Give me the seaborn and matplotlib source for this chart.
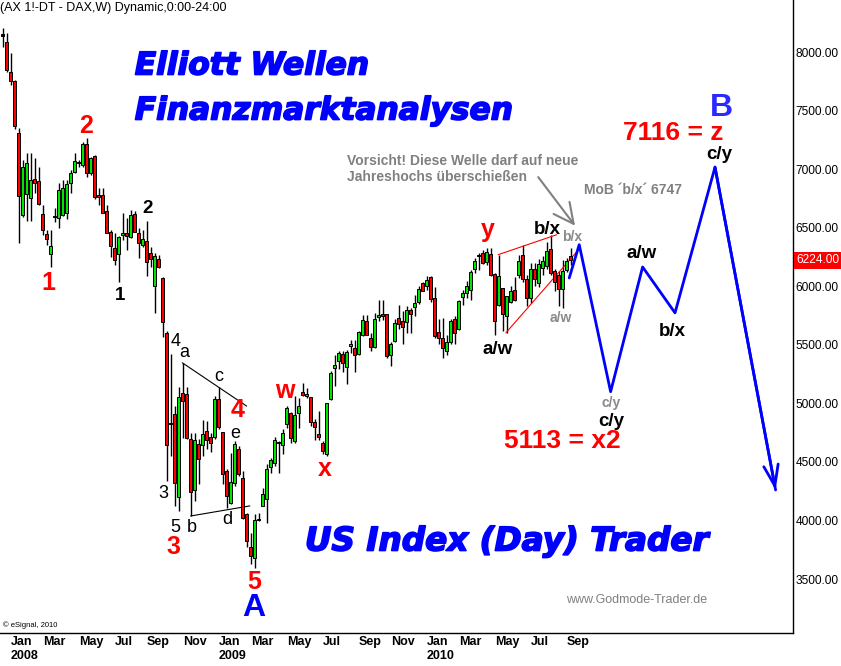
import numpy as np
import pandas as pd
import matplotlib
matplotlib.use("Agg")
import matplotlib.pyplot as plt
import matplotlib.transforms as mtransforms
import matplotlib.patheffects as pe
import seaborn as sns

opens = [
    8140, 8085, 7830, 7753, 7310, 6611, 6790, 6756, 6918, 6901,
    6619, 6449, 6278, 6590, 6585, 6611, 6628, 6884, 6977, 7050,
    7037, 7216, 6969, 7114, 6780, 6781, 6645, 6466, 6330, 6278,
    6440, 6457, 6423, 6619, 6457, 6355, 6389, 6287, 6006, 6236,
    6074, 5602, 4835, 4912, 4204, 5091, 5082, 4693, 4261, 4650,
    4642, 4764, 4713, 4713, 5034, 4758, 4423, 4148, 4324, 4614,
    4366, 4054, 3770, 3684, 4005, 4125, 4182, 4460, 4488, 4665,
    4642, 4827, 4920, 4679, 4920, 5096, 5060, 5057, 4844, 4741,
    4665, 4565, 5040, 5304, 5361, 5423, 5312, 5488, 5474, 5423,
    5582, 5707, 5560, 5480, 5738, 5764, 5764, 5412, 5531, 5730,
    5707, 5693, 5795, 5824, 5866, 6028, 6000, 6079, 5900, 5608,
    5560, 5446, 5525, 5721, 5636, 5909, 5943, 5966, 6148, 6258,
    6284, 6204, 6275, 6105, 5844, 5986, 5744, 5864, 5972, 6099,
    6270, 6060, 5900, 6150, 6030, 6156, 6170, 6318, 6128, 6100,
    5977, 6142, 6261]
highs = [
    8205, 8162, 7991, 7760, 7350, 7080, 7140, 7140, 7097, 7020,
    6696, 6483, 6483, 6670, 6884, 6909, 6909, 6994, 7139, 7080,
    7233, 7267, 7105, 7122, 6841, 6841, 6696, 6483, 6457, 6432,
    6628, 6585, 6653, 6645, 6500, 6483, 6560, 6338, 6287, 6270,
    6082, 5616, 5418, 4977, 5142, 5346, 5142, 4750, 4750, 4693,
    4858, 4849, 4750, 5062, 5142, 4758, 4437, 4579, 4679, 4636,
    4423, 4068, 3897, 4054, 4068, 4281, 4480, 4537, 4713, 4679,
    4778, 4977, 4926, 5062, 5048, 5176, 5133, 5057, 4864, 4934,
    4679, 5006, 5275, 5417, 5446, 5446, 5460, 5545, 5545, 5622,
    5758, 5758, 5602, 5773, 5880, 5886, 5764, 5525, 5721, 5844,
    5787, 5835, 5815, 5929, 6006, 6034, 6085, 6091, 5994, 5721,
    5730, 5580, 5721, 5744, 5886, 5972, 6042, 6142, 6241, 6284,
    6307, 6330, 6327, 6114, 6270, 5986, 5920, 6000, 6079, 6270,
    6355, 6100, 6200, 6200, 6230, 6260, 6380, 6440, 6150, 6130,
    6227, 6241, 6327]
lows = [
    8043, 7830, 7719, 7340, 6372, 6590, 6560, 6560, 6798, 6696,
    6440, 6355, 6168, 6551, 6500, 6602, 6577, 6798, 6969, 7020,
    7020, 6935, 6952, 6747, 6696, 6628, 6457, 6253, 6185, 6040,
    6398, 6312, 6415, 6466, 6244, 6338, 6091, 6168, 5776, 6159,
    5570, 4338, 4551, 4125, 4082, 4707, 4693, 4040, 4168, 4309,
    4551, 4608, 4585, 4693, 4778, 4309, 4111, 4139, 4295, 4380,
    4011, 3770, 3628, 3599, 3997, 4125, 3983, 4409, 4466, 4409,
    4565, 4792, 4659, 4665, 4792, 5062, 5048, 4807, 4687, 4687,
    4565, 4551, 5028, 5148, 5290, 5267, 5170, 5432, 5267, 5417,
    5574, 5580, 5446, 5474, 5702, 5716, 5389, 5318, 5523, 5636,
    5503, 5602, 5602, 5750, 5852, 5957, 5966, 5864, 5560, 5503,
    5389, 5417, 5511, 5511, 5630, 5844, 5900, 5886, 6114, 6142,
    6190, 6180, 6085, 5588, 5830, 5616, 5602, 5858, 5872, 6071,
    6040, 5830, 5860, 6000, 5990, 6100, 6150, 6100, 5960, 5830,
    5815, 6120, 6185]
closes = [
    8150, 7847, 7753, 7369, 6773, 7020, 7054, 6909, 6884, 6705,
    6483, 6406, 6347, 6600, 6824, 6841, 6875, 6969, 7071, 7060,
    7216, 6969, 7097, 6764, 6760, 6628, 6457, 6347, 6227, 6423,
    6457, 6432, 6611, 6466, 6372, 6406, 6210, 6236, 6261, 6168,
    5699, 4642, 4825, 4324, 5057, 5020, 4707, 4244, 4684, 4528,
    4736, 4684, 4659, 5034, 4798, 4400, 4210, 4332, 4656, 4395,
    4025, 3827, 3699, 4003, 4015, 4230, 4443, 4517, 4684, 4672,
    4750, 4957, 4707, 4898, 4977, 5076, 5082, 4841, 4798, 4713,
    4594, 5006, 5261, 5332, 5432, 5346, 5440, 5508, 5417, 5611,
    5710, 5588, 5480, 5722, 5758, 5744, 5403, 5503, 5687, 5679,
    5653, 5801, 5764, 5858, 5977, 5963, 6051, 5892, 5574, 5560,
    5474, 5523, 5707, 5602, 5878, 5943, 6000, 6122, 6213, 6264,
    6199, 6290, 6100, 5702, 6091, 5764, 5920, 5963, 5886, 6219,
    6060, 5900, 6150, 6060, 6190, 6213, 6304, 6114, 6034, 5977,
    6128, 6213, 6224]

start_week = "2007-12-24"
last_price = 6224
yticks = [3500, 4000, 4500, 5000, 5500, 6000, 6500, 7000, 7500, 8000]
month_ticks = [(2008, 1), (2008, 3), (2008, 5), (2008, 7), (2008, 9), (2008, 11),
               (2009, 1), (2009, 3), (2009, 5), (2009, 7), (2009, 9), (2009, 11),
               (2010, 1), (2010, 3), (2010, 5), (2010, 7), (2010, 9)]
month_names = {1: "Jan", 3: "Mar", 5: "May", 7: "Jul", 9: "Sep", 11: "Nov"}

# Prognosepfad (blau), in Wochen-Index / Punkten
proj_x = [141.65, 144.15, 152.0, 160.0, 168.1, 178.1, 193.25]
proj_y = [6071, 6355, 5100, 6165, 5773, 7017, 4261]

# Dreieck 2008/09 (schwarz) und Keil 2010 (rot)
tri_top_x, tri_top_y = [44.9, 61.0], [5347, 4977]
tri_bot_x, tri_bot_y = [47.0, 61.8], [4039, 4125]
wedge_top_x, wedge_top_y = [123.9, 138.5], [6270, 6440]
wedge_bot_x, wedge_bot_y = [125.8, 143.5], [5602, 6293]

red_labels = [("1", 11.3, 6031), ("2", 20.8, 7369), ("3", 42.6, 3773),
              ("4", 58.6, 4945), ("5", 62.8, 3474), ("w", 70.6, 5102),
              ("x", 80.6, 4437), ("y", 121.3, 6483)]
black_small = [("3", 40.1, 4233), ("4", 43.2, 5531), ("a", 45.3, 5435),
               ("5", 43.2, 3943), ("b", 47.2, 3943), ("c", 53.9, 5233),
               ("e", 58.1, 4745), ("d", 56.2, 4011)]
black_bold = [("1", 29.3, 5920), ("2", 36.3, 6662),
              ("a/w", 123.8, 5460), ("b/x", 136.1, 6483),
              ("a/w", 159.75, 6284), ("b/x", 167.4, 5616),
              ("c/y", 152.25, 4849), ("c/y", 179.15, 7122)]
grey_labels = [("b/x", 142.25, 6423), ("a/w", 139.5, 5730), ("c/y", 152.1, 5006)]

sns.set_style("white")
plt.rcParams['font.family'] = ['Liberation Sans', 'DejaVu Sans']

df = pd.DataFrame({'open': opens, 'high': highs, 'low': lows, 'close': closes})
df['week'] = np.arange(len(df))
df['date'] = pd.date_range(start_week, periods=len(df), freq='W-MON')
diff = df['close'] - df['open']
df['color'] = np.where(diff.abs() < 15, 'black', np.where(diff > 0, '#00e400', '#ff0000'))

fig = plt.figure(figsize=(8.41, 6.66), dpi=100)
ax = fig.add_axes([0, 33 / 666, 793 / 841, 633 / 666])

# Kerzen
ax.vlines(df['week'], df['low'], df['high'], color='black', lw=1, zorder=2)
ax.bar(df['week'], np.maximum(diff.abs(), 8), bottom=np.minimum(df['open'], df['close']),
       width=0.72, color=df['color'], edgecolor='black', linewidth=0.7, zorder=3)

# Linien
sns.lineplot(x=tri_top_x, y=tri_top_y, color='black', lw=0.8, ax=ax)
sns.lineplot(x=tri_bot_x, y=tri_bot_y, color='black', lw=0.8, ax=ax)
sns.lineplot(x=wedge_top_x, y=wedge_top_y, color='red', lw=0.8, ax=ax)
sns.lineplot(x=wedge_bot_x, y=wedge_bot_y, color='red', lw=0.8, ax=ax)
sns.lineplot(x=proj_x, y=proj_y, sort=False, color='#0000ff', lw=2, ax=ax, zorder=4)
ax.annotate('', xy=(proj_x[-1], proj_y[-1]), xytext=(proj_x[-2], proj_y[-2]),
            arrowprops=dict(arrowstyle='->,head_length=1.0,head_width=0.35',
                            color='#0000ff', lw=2, mutation_scale=15,
                            shrinkA=0, shrinkB=0), zorder=4)

ax.set_xlim(-0.675, 197.6)
ax.set_ylim(3040, 8444)

# Achsen
ax.yaxis.tick_right()
ax.set_yticks(yticks)
ax.set_yticklabels([f"{v:.2f}" for v in yticks])
ax.tick_params(axis='y', length=0, pad=2, labelsize=8.6, colors='black')

tick_pos, tick_lab = [], []
for y, m in month_ticks:
    tick_pos.append(int(df.index[df['date'] >= pd.Timestamp(y, m, 1)][0]))
    tick_lab.append(f"{month_names[m]}\n{y}" if m == 1 else month_names[m])
ax.set_xticks(tick_pos)
ax.set_xticklabels(tick_lab, ha='left', fontsize=9, fontweight='bold', linespacing=1.3)
ax.tick_params(axis='x', length=0, pad=2, colors='black')

for s in ['left', 'top']:
    ax.spines[s].set_visible(False)
for s in ['right', 'bottom']:
    ax.spines[s].set_color('black')
    ax.spines[s].set_linewidth(1)
ax.set_xlabel('')
ax.set_ylabel('')

# letzter Kurs
trans = mtransforms.blended_transform_factory(ax.transAxes, ax.transData)
ax.text(1.004, last_price, f"{last_price:.2f}", transform=trans, ha='left', va='center',
        color='white', fontsize=8.6, bbox=dict(facecolor='#ff0000', edgecolor='none', pad=1.8))

# Texte
ax.text(0.0, 0.987, "(AX 1!-DT - DAX,W) Dynamic,0:00-24:00", transform=ax.transAxes,
        ha='left', va='center', fontsize=9, color='black')
thick = [pe.withStroke(linewidth=1.2, foreground='#0000ff')]
for txt, yy, fs in [("Elliott Wellen", 0.8957, 22.5), ("Finanzmarktanalysen", 0.8246, 22.5)]:
    ax.text(0.170, yy, txt, transform=ax.transAxes, ha='left', va='center', fontsize=fs,
            color='#0000ff', fontweight='bold', fontstyle='italic', family='DejaVu Sans',
            path_effects=thick)
ax.text(0.3846, 0.1453, "US Index (Day) Trader", transform=ax.transAxes, ha='left', va='center',
        fontsize=23.5, color='#0000ff', fontweight='bold', fontstyle='italic',
        family='DejaVu Sans', path_effects=thick)
ax.text(0.7137, 0.0521, "www.Godmode-Trader.de", transform=ax.transAxes, ha='left',
        va='center', fontsize=9, color='#808080')
ax.text(0.004, 0.0126, "\u00a9 eSignal, 2010", transform=ax.transAxes, ha='left',
        va='center', fontsize=5.5, color='black')

for t, x, y in red_labels:
    ax.text(x, y, t, ha='center', va='center', fontsize=18, fontweight='bold', color='#ff0000')
for t, x, y in black_small:
    ax.text(x, y, t, ha='center', va='center', fontsize=13, color='black')
for t, x, y in black_bold:
    ax.text(x, y, t, ha='center', va='center', fontsize=13.5, fontweight='bold', color='black')
for t, x, y in grey_labels:
    ax.text(x, y, t, ha='center', va='center', fontsize=10, fontweight='bold', color='#8a8a8a')

ax.text(139.8, 4676, "5113 = x2", ha='center', va='center', fontsize=19,
        fontweight='bold', color='#ff0000')
ax.text(167.6, 7310, "7116 = z", ha='center', va='center', fontsize=19,
        fontweight='bold', color='#ff0000')
ax.text(62.8, 3250, "A", ha='center', va='center', fontsize=23, fontweight='bold', color='#0000ff')
ax.text(179.6, 7523, "B", ha='center', va='center', fontsize=23, fontweight='bold', color='#2a2aff')

ax.text(86.1, 6999, "Vorsicht! Diese Welle darf auf neue\nJahreshochs \u00fcberschie\u00dfen",
        ha='left', va='center', fontsize=10, fontweight='bold', color='#808080', linespacing=1.2)
ax.text(157.6, 6824, "MoB \u00b4b/x\u00b4 6747", ha='center', va='center', fontsize=10,
        fontweight='bold', color='#808080')
ax.annotate('', xy=(143.1, 6517), xytext=(133.9, 6932),
            arrowprops=dict(arrowstyle='->,head_length=0.9,head_width=0.45', color='#808080',
                            lw=1.5, mutation_scale=16, shrinkA=0, shrinkB=0))

fig.savefig("out.png", dpi=100)
